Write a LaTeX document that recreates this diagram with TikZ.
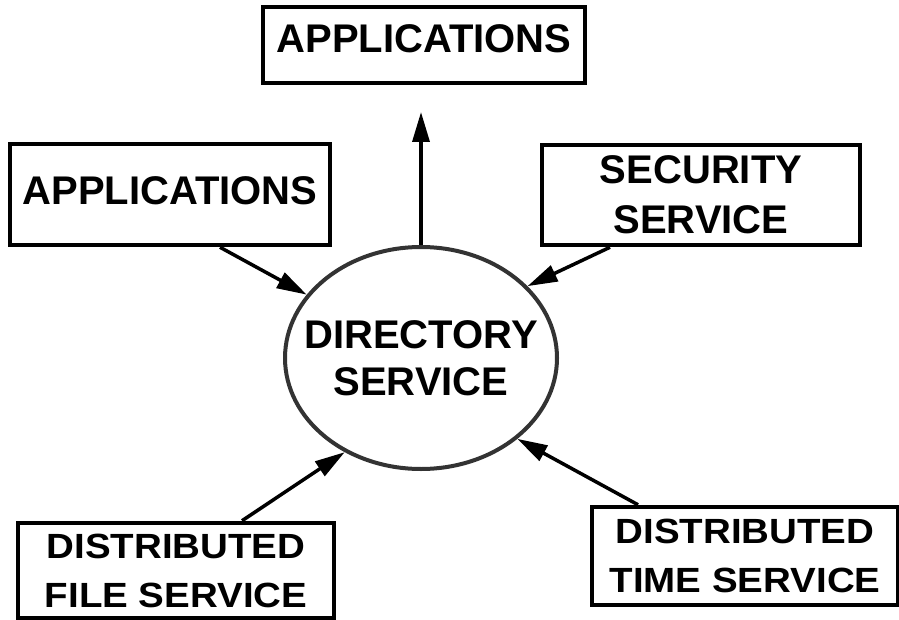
\documentclass[tikz,border=0pt]{standalone}
\usepackage{fontspec}
\setmainfont{Liberation Sans}
\newfontfamily\widesans[FakeStretch=1.1]{Liberation Sans}
\usetikzlibrary{positioning}
\usetikzlibrary{calc}
\usetikzlibrary{arrows.meta}
\usetikzlibrary{shapes.geometric}

\begin{document}
\begin{tikzpicture}[x=1pt, y=-1pt,
        svcbox/.style={draw, line width=4.5pt, inner sep=0pt, align=center,
            font=\fontsize{40}{50}\selectfont\bfseries},
        widebox/.style={svcbox, font=\widesans\fontsize{35}{49}\selectfont\bfseries},
        conn/.style={line width=3.5pt, -{Triangle[length=30pt, width=17pt]}}]
    \useasboundingbox (0,0) rectangle (899,620);

    \node[ellipse, draw=black!80, line width=4pt, minimum width=272pt, minimum height=222pt,
        inner ysep=0pt, inner xsep=-40pt, align=center, font=\fontsize{40}{47}\selectfont\bfseries]
        (dir) at (421,358) {DIRECTORY\\SERVICE};

    \node[svcbox, minimum width=322pt, minimum height=76pt, text depth=12pt] (apptop) at (424,45) {APPLICATIONS};
    \node[svcbox, minimum width=320pt, minimum height=101pt, text depth=7pt] (appleft) at (170,194.5) {APPLICATIONS};
    \node[svcbox, minimum width=318pt, minimum height=100pt] (sec) at (701,195) {SECURITY\\SERVICE};
    \node[widebox, minimum width=316pt, minimum height=95pt] (file) at (176,570.5) {DISTRIBUTED\\FILE SERVICE};
    \node[widebox, minimum width=306pt, minimum height=98pt] (time) at (745,556) {DISTRIBUTED\\TIME SERVICE};

    \coordinate (uptip) at (421,112);

    \draw[conn] (dir.north) -- (uptip);
    \draw[conn] ([xshift=50pt]appleft.south) -- (dir.151);
    \draw[conn] ([xshift=-91pt]sec.south) -- (dir.34);
    \draw[conn] ([xshift=66pt]file.north) -- (dir.231);
    \draw[conn] ([xshift=-107pt]time.north) -- (dir.-40);
\end{tikzpicture}
\end{document}
